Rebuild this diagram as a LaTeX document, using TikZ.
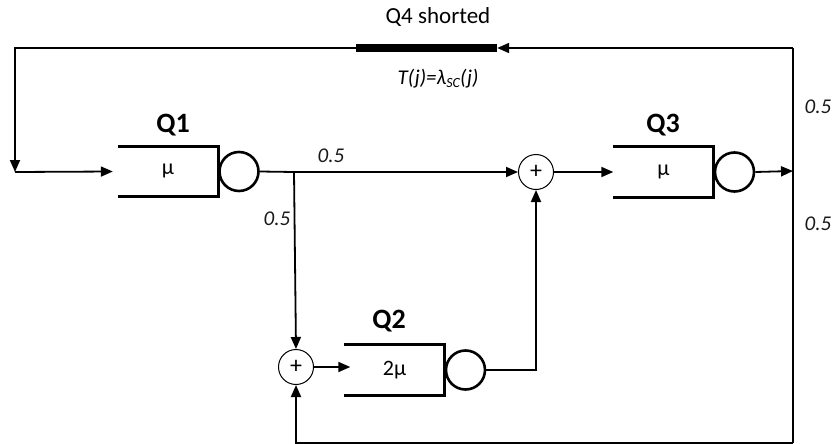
\documentclass[tikz,border=0pt]{standalone}
\usepackage{fontspec}
\setmainfont{Carlito}
\usetikzlibrary{arrows.meta,calc}
\begin{document}
\begin{tikzpicture}[x=1pt,y=-1pt,
  wire/.style={line width=1.8pt,line join=miter},
  arr/.style={wire,-{Triangle[length=12pt,width=10pt]}},
  buffer/.style={minimum width=100pt,minimum height=50pt,inner sep=0pt,font=\fontsize{22}{22}\selectfont},
  buffline/.style={line width=3.2pt},
  server/.style={circle,draw,line width=2.6pt,minimum size=39pt,inner sep=0pt},
  sumnode/.style={circle,draw,line width=1pt,minimum size=35pt,inner sep=0pt,font=\fontsize{24}{24}\selectfont},
  qlabel/.style={font=\bfseries\fontsize{28}{28}\selectfont},
  prob/.style={font=\itshape\fontsize{21}{21}\selectfont,text=black!90}]
\useasboundingbox (0,0) rectangle (840,444);

% queue Q1
\node[buffer] (b1) at (168,171.5) {µ};
\draw[buffline] (b1.north west) -- (b1.north east) -- (b1.south east) -- (b1.south west);
\node[server,anchor=west] (s1) at (b1.east) {};
\node[qlabel] (l1) at (173,125) {Q1};

% queue Q3
\node[buffer] (b3) at (663.5,172) {µ};
\draw[buffline] (b3.north west) -- (b3.north east) -- (b3.south east) -- (b3.south west);
\node[server,anchor=west] (s3) at (b3.east) {};
\node[qlabel] (l3) at (663,125) {Q3};

% queue Q2
\node[buffer] (b2) at (394.5,370) {2µ};
\draw[buffline] (b2.north west) -- (b2.north east) -- (b2.south east) -- (b2.south west);
\node[server,anchor=west] (s2) at (b2.east) {};
\node[qlabel] (l2) at (389,321) {Q2};

% summing junctions
\node[sumnode] (p3) at (536,172) {+};
\node[sumnode] (p2) at (296,367) {+};

% shorted station Q4
\node[fill=black,minimum width=141pt,minimum height=7.5pt,inner sep=0pt] (q4) at (426.5,48) {};
\node[font=\fontsize{23}{23}\selectfont] (t4) at (438,17) {Q4 shorted};
\node[font=\itshape\fontsize{21}{21}\selectfont] (tj) at (438,79)
  {T(j)=λ\raisebox{-0.3ex}{\fontsize{14}{14}\selectfont SC}(j)};

% routing points
\coordinate (br) at (294,172);
\coordinate (tr) at (793,48);
\coordinate (rb) at (793,443);
\coordinate (tl) at (15,48);
\coordinate (lb) at (15,172);
\coordinate (r1) at (793,171);

% connectors
\draw[wire] (s1.east) -- (br);
\draw[arr] (br) -- (p3.west);
\draw[arr] (br) -- (p2.north);
\draw[arr] (p3.east) -- (p3.east -| b3.west);
\draw[arr] (s3.east) -- (r1);
\draw[arr] (p2.east) -- ($(p2.east -| b2.west)+(6,0)$);
\draw[arr] (s2.east) -| (p3.south);
\draw[wire] (tr) -- (rb);
\draw[arr] (tr) -- (q4.east);
\draw[arr] (q4.west) -- (tl) -- (lb);
\draw[arr] (lb) -- ($(b1.west)+(-5,0)$);
\draw[arr] (rb) -| (p2.south);

% routing probabilities
\node[prob] (pa) at (331,156) {0.5};
\node[prob] (pb) at (277,219) {0.5};
\node[prob] (pc) at (818,107) {0.5};
\node[prob] (pd) at (818,224) {0.5};
\end{tikzpicture}
\end{document}
